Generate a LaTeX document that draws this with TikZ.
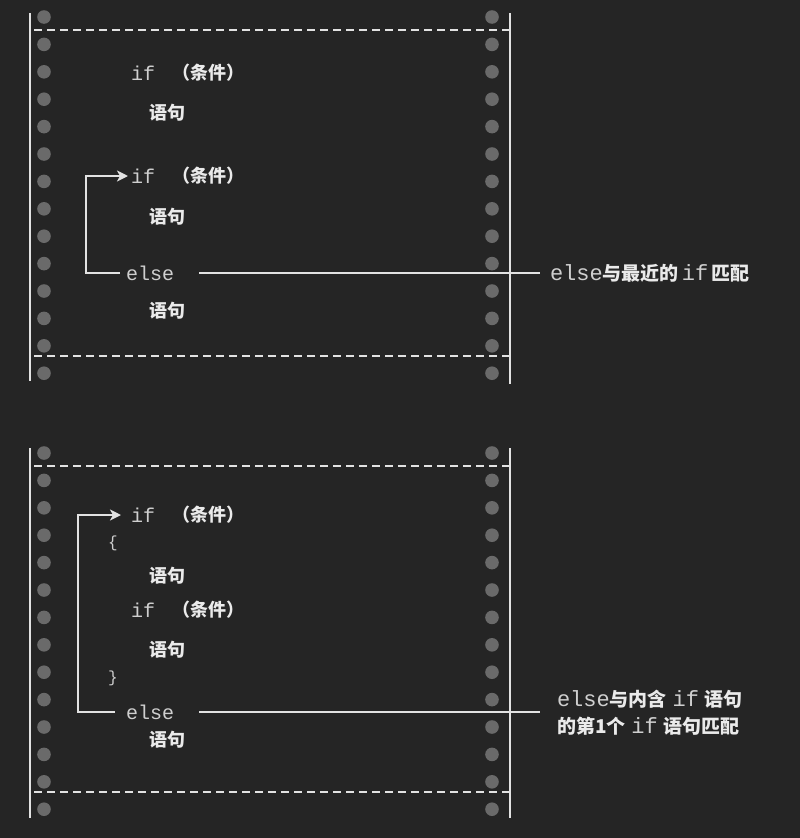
\documentclass[tikz,border=0pt]{standalone}
\usepackage{fontspec}
\setmonofont{Liberation Mono}
\newfontfamily\cjk{Noto Sans CJK SC}
\usetikzlibrary{arrows.meta}
\definecolor{bg}{HTML}{252525}
\definecolor{ln}{HTML}{E2E2E2}
\definecolor{dotc}{HTML}{6A6A6A}
\definecolor{codec}{HTML}{CFCFCF}
\definecolor{zhc}{HTML}{EAEAEA}
\newcommand{\zh}[1]{{\cjk\bfseries\fontsize{19}{27}\selectfont\color{zhc}#1}}
\newcommand{\cd}[1]{{\ttfamily\fontsize{22}{27}\selectfont\color{codec}#1}}
\tikzset{
  x=1pt, y=-1pt,
  code/.style={anchor=west, inner sep=0pt, outer sep=0pt, font=\ttfamily\fontsize{20}{22}\selectfont, text=codec},
  zhtxt/.style={anchor=west, inner sep=0pt, outer sep=0pt, font=\cjk\bfseries\fontsize{18}{20}\selectfont, text=zhc},
  lbl/.style={anchor=west, inner sep=0pt, outer sep=0pt, align=left, font=\fontsize{19}{27}\selectfont},
  frame/.style={draw=ln, line width=2pt},
  dash line/.style={draw=ln, line width=2pt, dash pattern=on 8pt off 5pt},
  conn/.style={draw=ln, line width=2pt},
  arr/.style={draw=ln, line width=2pt, -{Stealth[length=11pt,width=11pt,inset=3pt]}},
  hole/.style={fill=dotc},
}
\begin{document}
\begin{tikzpicture}
\fill[bg] (0,0) rectangle (800,838);
\useasboundingbox (0,0) rectangle (800,838);

% ---------- top panel ----------
\foreach \i in {0,...,13} {
  \fill[hole] (44,17+27.4*\i) circle (6.8);
  \fill[hole] (492,17+27.4*\i) circle (6.8);
}
\draw[frame] (30,13) -- (30,381);
\draw[frame] (510,13) -- (510,384);
\draw[dash line] (34,30) -- (510,30);
\draw[dash line] (34,356) -- (510,356);

\node[code] (i1) at (131,73) {if};
\node[zhtxt] (c1) at (172,73) {（条件）};
\node[zhtxt] (s1) at (149,113) {语句};
\node[code] (i2) at (131,176) {if};
\node[zhtxt] (c2) at (172,176) {（条件）};
\node[zhtxt] (s2) at (149,217) {语句};
\node[code] (e1) at (126,273) {else};
\node[zhtxt] (s3) at (149,311) {语句};
\coordinate (k1) at (86,273);
\node[lbl] (l1) at (550,273) {\cd{else}\zh{与最近的}\,\cd{if}\,\zh{匹配}};

\draw[arr] ([xshift=-6pt]e1.west) -- (e1.west -| k1) |- ([xshift=-3pt]i2.west);
\draw[conn] ([xshift=25pt]e1.east) -- ([xshift=-10pt]l1.west);

% ---------- bottom panel ----------
\foreach \i in {0,...,13} {
  \fill[hole] (44,453+27.4*\i) circle (6.8);
  \fill[hole] (492,453+27.4*\i) circle (6.8);
}
\draw[frame] (30,448) -- (30,818);
\draw[frame] (510,448) -- (510,818);
\draw[dash line] (34,466) -- (510,466);
\draw[dash line] (34,792) -- (510,792);

\node[code] (i3) at (131,515) {if};
\node[zhtxt] (c3) at (172,515) {（条件）};
\node[code, font=\ttfamily\fontsize{16}{18}\selectfont] (b1) at (108,543) {\{};
\node[zhtxt] (s4) at (149,576) {语句};
\node[code] (i4) at (131,610) {if};
\node[zhtxt] (c4) at (172,610) {（条件）};
\node[zhtxt] (s5) at (149,650) {语句};
\node[code, font=\ttfamily\fontsize{16}{18}\selectfont] (b2) at (108,678) {\}};
\node[code] (e2) at (126,712) {else};
\node[zhtxt] (s6) at (149,740) {语句};
\coordinate (k2) at (78,712);
\node[lbl] (l2) at (557,713) {\cd{else}\zh{与内含} \cd{if} \zh{语句}\\\zh{的第1个} \cd{if} \zh{语句匹配}};

\draw[arr] ([xshift=-11pt]e2.west) -- (e2.west -| k2) |- ([xshift=-10pt]i3.west);
\draw[conn] ([xshift=25pt]e2.east) -- (540,712);
\end{tikzpicture}
\end{document}
